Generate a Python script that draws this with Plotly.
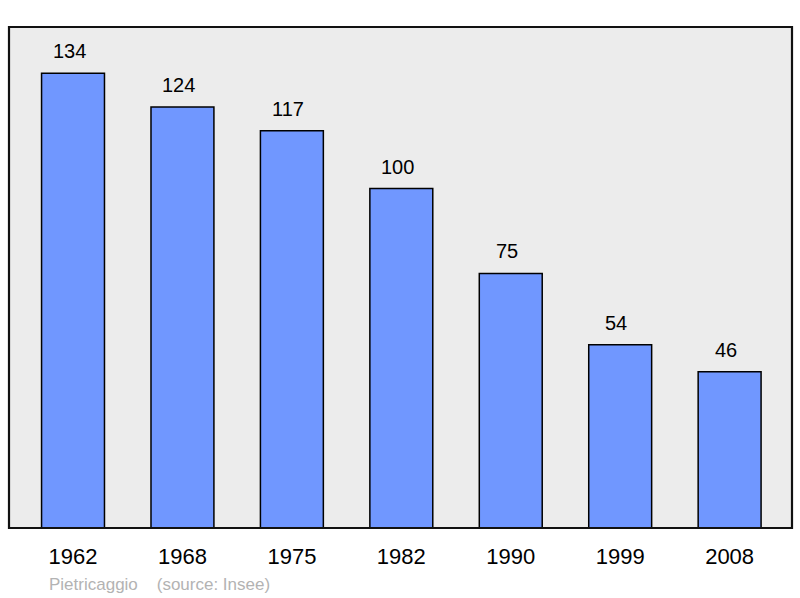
import plotly.graph_objects as go

years = ["1962", "1968", "1975", "1982", "1990", "1999", "2008"]
population = [134, 124, 117, 100, 75, 54, 46]

FONT = "Liberation Sans, Arial, sans-serif"

fig = go.Figure()
fig.add_trace(go.Bar(
    x=years, y=population, width=0.575,
    marker=dict(color="#7097ff", line=dict(color="#000000", width=1.5)),
    hoverinfo="x+y",
))

for i, v in enumerate(population):
    fig.add_annotation(x=i, y=v, text=str(v), showarrow=False,
                       yanchor="bottom", yshift=9, xshift=-4,
                       font=dict(family=FONT, size=20, color="#000000"))

fig.add_annotation(x=0, xref="paper", y=-0.112, yref="paper", xshift=38,
                   text="Pietricaggio &nbsp;&nbsp;&nbsp;(source: Insee)", showarrow=False,
                   xanchor="left", yanchor="middle",
                   font=dict(family=FONT, size=17, color="#b3b3b3"))

fig.add_shape(type="rect", xref="paper", yref="paper", x0=0, y0=0, x1=1, y1=1,
              line=dict(color="#111111", width=2.2), layer="above")

fig.update_layout(
    width=800, height=598,
    margin=dict(l=9, r=8, t=27, b=70),
    paper_bgcolor="#ffffff", plot_bgcolor="#ececec",
    showlegend=False,
    xaxis=dict(type="category", range=[-0.585, 6.57], showgrid=False, zeroline=False,
               ticks="", ticklabelstandoff=13,
               tickfont=dict(family=FONT, size=22, color="#000000")),
    yaxis=dict(range=[0, 147.6], showgrid=False, zeroline=False, showticklabels=False, ticks=""),
)

fig.write_html("out.html", config={"displayModeBar": False},
               post_script="document.body.style.margin='0';document.body.style.padding='0';")
